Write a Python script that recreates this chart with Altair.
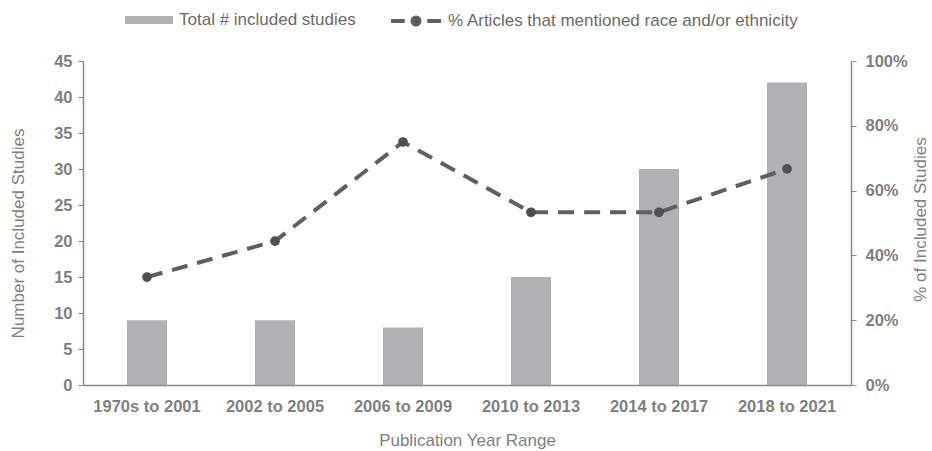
import altair as alt
import pandas as pd

categories = ["1970s to 2001", "2002 to 2005", "2006 to 2009", "2010 to 2013", "2014 to 2017", "2018 to 2021"]
studies = [9, 9, 8, 15, 30, 42]
pct_race = [0.333, 0.444, 0.75, 0.533, 0.533, 0.667]
bar_label = "Total # included studies"
line_label = "% Articles that mentioned race and/or ethnicity"

df = pd.DataFrame({
    "cat": categories,
    "studies": studies,
    "pct": pct_race,
    "s1": [bar_label] * len(categories),
    "s2": [line_label] * len(categories),
})

FONT = "Liberation Sans"
AX = "#7f7f7f"
BAR = "#b0b1b5"
LINE = "#5f5f62"
PT = "#505053"

x_enc = alt.X(
    "cat:N", sort=categories,
    scale=alt.Scale(paddingInner=0.6875, paddingOuter=0.34375),
    axis=alt.Axis(title="Publication Year Range", labelAngle=0, ticks=False,
                  labelFont=FONT, labelFontSize=16.5, labelFontWeight="bold", labelColor=AX,
                  labelPadding=13, titleFont=FONT, titleFontSize=17, titleFontWeight="normal",
                  titleColor=AX, titlePadding=18, domainColor="#888888", domainWidth=1.5),
)

bars = alt.Chart(df).mark_bar(width=40).encode(
    x=x_enc,
    y=alt.Y("studies:Q", scale=alt.Scale(domain=[0, 45], nice=False),
            axis=alt.Axis(title="Number of Included Studies", values=list(range(0, 46, 5)),
                          grid=False, tickSize=5, tickColor="#888888", domainColor="#888888",
                          domainWidth=1.5, labelFont=FONT, labelFontSize=16.5, labelFontWeight="bold",
                          labelColor=AX, labelPadding=6, titleFont=FONT, titleFontSize=17,
                          titleFontWeight="normal", titleColor=AX, titlePadding=26, titleY=172)),
    fill=alt.Fill("s1:N", scale=alt.Scale(range=[BAR]),
                  legend=alt.Legend(title=None, orient="none", legendX=42, legendY=-65,
                                    symbolType="M-1,-0.17H1V0.17H-1Z", symbolSize=2304,
                                    symbolStrokeWidth=0, labelFont=FONT, labelFontSize=17,
                                    labelColor="#6a6a6a", labelOffset=6, labelLimit=0)),
)

y2 = alt.Y("pct:Q", scale=alt.Scale(domain=[0, 1], nice=False),
           axis=alt.Axis(title="% of Included Studies", orient="right", values=[0, 0.2, 0.4, 0.6, 0.8, 1.0],
                         format=".0%", grid=False, tickSize=5, tickColor="#888888", domainColor="#888888",
                         domainWidth=1.5, labelFont=FONT, labelFontSize=16.5, labelFontWeight="bold",
                         labelColor=AX, labelPadding=9, titleFont=FONT, titleFontSize=17,
                         titleFontWeight="normal", titleColor=AX, titlePadding=22, titleAngle=270,
                         titleY=158))

line = alt.Chart(df).mark_line(strokeWidth=4, strokeDash=[16, 10]).encode(
    x=alt.X("cat:N", sort=categories),
    y=y2,
    stroke=alt.Stroke("s2:N", scale=alt.Scale(range=[LINE]),
                      legend=alt.Legend(title=None, orient="none", legendX=306, legendY=-67,
                                        symbolType="M-1,0H-0.45M0.45,0H1M-0.14,0A0.14,0.14 0 1,0 0.14,0A0.14,0.14 0 1,0 -0.14,0",
                                        symbolSize=2500, symbolStrokeWidth=4, symbolFillColor=PT,
                                        symbolStrokeColor=LINE, labelFont=FONT, labelFontSize=17,
                                        labelColor="#6a6a6a", labelOffset=5, labelLimit=0)),
)

points = alt.Chart(df).mark_circle(size=95, opacity=1, color=PT).encode(
    x=alt.X("cat:N", sort=categories),
    y=alt.Y("pct:Q"),
)

right = alt.layer(line, points)

chart = alt.layer(bars, right).resolve_scale(
    y="independent", fill="independent", stroke="independent"
).properties(
    width=768, height=324,
    autosize=alt.AutoSizeParams(type="none"),
    padding={"left": 83, "top": 61, "right": 81, "bottom": 66},
    background="white",
).configure_view(stroke=None)

chart.save("out.html", embed_options={"renderer": "svg", "actions": False})
